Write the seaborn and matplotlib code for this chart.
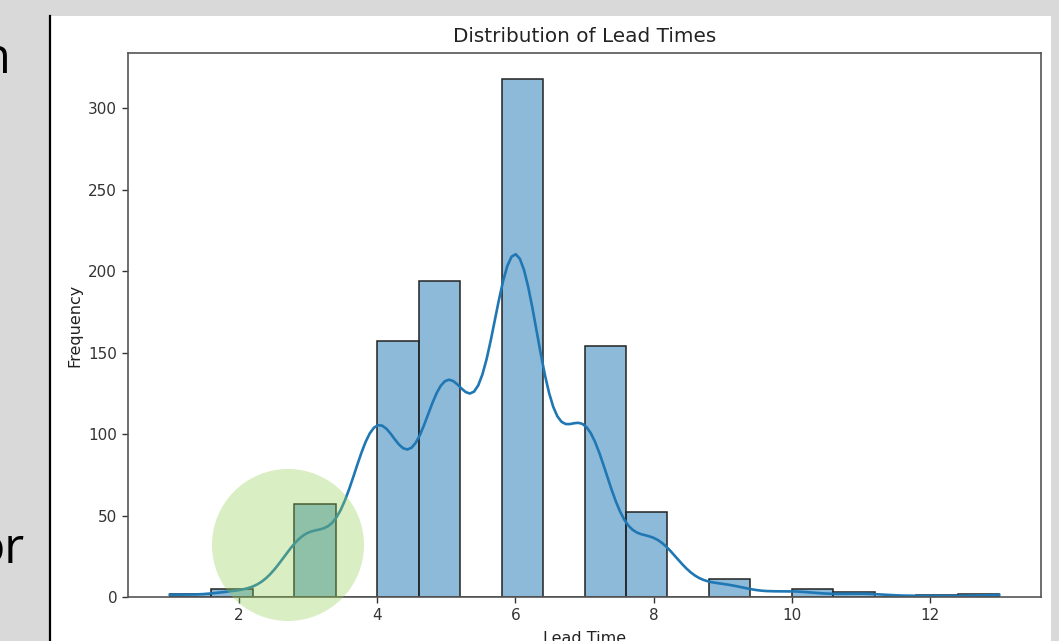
import numpy as np
import pandas as pd
import seaborn as sns
import matplotlib
matplotlib.use("Agg")
import matplotlib.pyplot as plt
from matplotlib.patches import Rectangle, Ellipse
from matplotlib.lines import Line2D

# Data (lead time value -> count)
lead_time_values = [1, 2, 3, 4, 5, 6, 7, 8, 9, 10, 11, 12, 13]
lead_time_counts = [2, 5, 57, 157, 194, 318, 154, 52, 11, 5, 3, 1, 2]

title = "Distribution of Lead Times"
x_label = "Lead Time"
y_label = "Frequency"

df = pd.DataFrame({"Lead Time": np.repeat(lead_time_values, lead_time_counts)})

W, H = 1059, 641
fig = plt.figure(figsize=(W / 100, H / 100), dpi=100, facecolor="#d9d9d9")

# white slide panel behind the chart
fig.add_artist(Rectangle((50 / W, 0), (1051 - 50) / W, (H - 16) / H,
                         transform=fig.transFigure, facecolor="white",
                         edgecolor="none", zorder=-2))
fig.add_artist(Line2D([49.5 / W, 49.5 / W], [0, (H - 16) / H],
                      transform=fig.transFigure, color="black", lw=1.6, zorder=-1))

# slide text fragments on the left
fig.text(10.5 / W, 1 - 73 / H, "n", ha="right", va="baseline", fontsize=35,
         family="Open Sans", color="black")
fig.text(24.5 / W, 1 - 563 / H, "or", ha="right", va="baseline", fontsize=35,
         family="Open Sans", color="black")

ax = fig.add_axes([128.3 / W, 1 - 597 / H, (1040.7 - 128.3) / W, (597 - 53) / H])
sns.histplot(data=df, x="Lead Time", bins=20, kde=True, ax=ax,
             edgecolor="#222222", linewidth=1.1,
             line_kws={"linewidth": 1.9})

ax.set_title(title, fontsize=14.4, pad=8, color="#222222")
ax.set_xlabel(x_label, fontsize=11.5, labelpad=5.5, color="#222222")
ax.set_ylabel(y_label, fontsize=11.5, color="#222222")
ax.tick_params(labelsize=11, length=4.5, width=1, colors="#333333")
for s in ax.spines.values():
    s.set_color("#555555")
    s.set_linewidth(1.2)

# green highlight circle
r = 76
fig.add_artist(Ellipse((288 / W, 1 - 545 / H), 2 * r / W, 2 * r / H,
                       transform=fig.transFigure, facecolor="#92d050",
                       alpha=0.35, edgecolor="none", zorder=5))

fig.savefig("out.png", dpi=100, facecolor=fig.get_facecolor())
